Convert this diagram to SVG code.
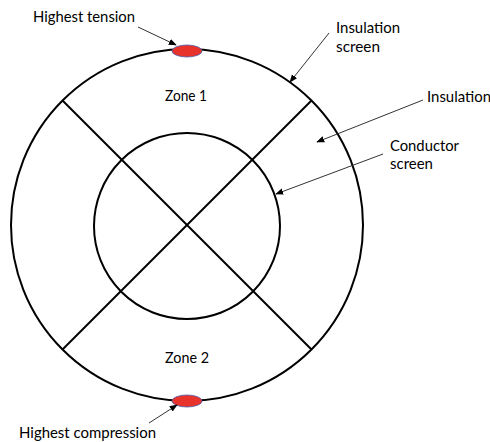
<svg xmlns="http://www.w3.org/2000/svg" width="490" height="442" viewBox="0 0 490 442">
<style>
.shape{fill:none;stroke:#000;stroke-width:2}
.hot{fill:#e8332a;stroke:#4a5aa8;stroke-width:0.8}
.lbl{font-family:Lato,"Open Sans",sans-serif;font-size:15px;fill:#000}
.lead{stroke:#333;stroke-width:1;fill:none;marker-end:url(#ah)}
</style>
<defs>
<marker id="ah" viewBox="0 0 10 10" refX="9" refY="5" markerWidth="8" markerHeight="8" markerUnits="userSpaceOnUse" orient="auto">
<path d="M0,1 L10,5 L0,9 z" fill="#000"/>
</marker>
</defs>
<rect width="490" height="442" fill="#fff"/>
<g id="cable">
<circle class="shape" cx="187" cy="225" r="176"/>
<circle class="shape" cx="187" cy="226" r="93"/>
<line class="shape" x1="62.5" y1="100.5" x2="311.5" y2="349.5"/>
<line class="shape" x1="311.5" y1="100.5" x2="62.5" y2="349.5"/>
</g>
<g id="tension">
<ellipse class="hot" cx="187" cy="51" rx="15" ry="6"/>
<text class="lbl" x="33" y="22" textLength="102" lengthAdjust="spacingAndGlyphs">Highest tension</text>
</g>
<g id="compression">
<ellipse class="hot" cx="187" cy="401" rx="15" ry="6"/>
<text class="lbl" x="19" y="438" textLength="137" lengthAdjust="spacingAndGlyphs">Highest compression</text>
</g>
<g id="zone1"><text class="lbl" x="165" y="101" textLength="42" lengthAdjust="spacingAndGlyphs">Zone 1</text></g>
<g id="zone2"><text class="lbl" x="165" y="363" textLength="44" lengthAdjust="spacingAndGlyphs">Zone 2</text></g>
<g id="insulation-screen"><text class="lbl" x="336" y="33" textLength="64" lengthAdjust="spacingAndGlyphs">Insulation</text><text class="lbl" x="336" y="52" textLength="44" lengthAdjust="spacingAndGlyphs">screen</text></g>
<g id="insulation"><text class="lbl" x="427" y="102" textLength="64" lengthAdjust="spacingAndGlyphs">Insulation</text></g>
<g id="conductor-screen"><text class="lbl" x="390" y="151" textLength="69" lengthAdjust="spacingAndGlyphs">Conductor</text><text class="lbl" x="390" y="169" textLength="43" lengthAdjust="spacingAndGlyphs">screen</text></g>
<g id="connectors">
<line class="lead" x1="138" y1="27" x2="176" y2="45"/>
<line class="lead" x1="329" y1="33" x2="290" y2="82"/>
<line class="lead" x1="423" y1="100" x2="317" y2="142"/>
<line class="lead" x1="383" y1="154" x2="276" y2="194"/>
<line class="lead" x1="149" y1="423" x2="177" y2="405"/>
</g>
</svg>
